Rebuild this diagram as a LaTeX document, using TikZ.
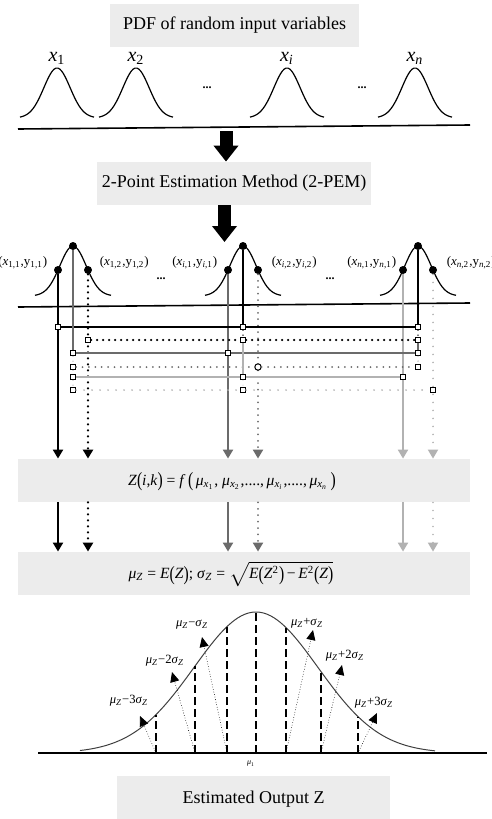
\documentclass[tikz,border=0pt]{standalone}
\usepackage{fontspec}
\setmainfont{Liberation Serif}
\usetikzlibrary{arrows.meta,positioning}
\definecolor{boxgray}{gray}{0.925}
\definecolor{pemdark}{gray}{0.42}
\definecolor{pemlight}{gray}{0.7}
\newcommand{\vi}[1]{\textit{#1}}
\newcommand{\lo}[1]{\textsubscript{#1}}
\newcommand{\tp}[1]{\raisebox{-0.12em}{\scalebox{1}[1.3]{#1}}}
\begin{document}
\begin{tikzpicture}[x=0.5pt,y=-0.5pt, every node/.style={font=\fontsize{9}{11}\selectfont},
  graybox/.style={fill=boxgray,inner sep=0pt,minimum height=21.5pt},
  pdfcurve/.style={line width=0.6pt},
  bigarrow/.style={line width=6.5pt,-{Triangle[width=12pt,length=8pt]}},
  ptdot/.style={circle,fill,inner sep=0pt,minimum size=4pt},
  ptlabel/.style={inner sep=0pt,font=\fontsize{6.5}{8}\selectfont},
  sq/.style={draw,fill=white,line width=0.5pt,inner sep=0pt,minimum size=2.6pt},
  tip/.style={-{Triangle[width=5pt,length=4.5pt]}},
  blk/.style={line width=1.1pt},
  blkdot/.style={line width=1.2pt,line cap=round,dash pattern=on 0pt off 3pt},
  drk/.style={pemdark,line width=1pt},
  drkdot/.style={pemdark,line width=1pt,line cap=round,dash pattern=on 0pt off 3.2pt},
  lgt/.style={pemlight,line width=1pt},
  lgtdot/.style={pemlight,line width=0.9pt,line cap=round,dash pattern=on 0pt off 4pt},
  sigline/.style={line width=0.9pt,dash pattern=on 4pt off 2pt},
  sigarrow/.style={line width=0.4pt,line cap=round,dash pattern=on 0pt off 1.3pt,-{Triangle[width=4.5pt,length=5pt]}},
  siglabel/.style={inner sep=0pt,font=\fontsize{6.3}{8}\selectfont}]
\useasboundingbox (0,0) rectangle (492,819);
% input pdfs
\node[graybox,minimum width=124.5pt] (pdfbox) at (234.5,25) {PDF of random input variables};
\foreach \cx/\lab [count=\k] in {57/1,136/2,287/\vi{i},415/\vi{n}}{
  \draw[pdfcurve] plot[domain=-37:37,samples=40] ({\cx+\x},{68+50*(1-exp(-\x*\x/344))});
  \node[font=\fontsize{10}{12}\selectfont] (xlab\k) at (\cx,58) {\vi{x}\lo{\lab}};}
\node[font=\fontsize{6}{7}\selectfont\bfseries] (dotsA) at (207,88) {...};
\node[font=\fontsize{6}{7}\selectfont\bfseries] (dotsB) at (362,88) {...};
\draw[line width=0.8pt] (18,129) -- (470,125);
\coordinate (arrtop) at (226,131);
\node[graybox,minimum width=137pt] (pembox) at (234,183.5) {2-Point Estimation Method (2-PEM)};
\draw[bigarrow] (arrtop) -- (arrtop |- pembox.north);
\coordinate (arrbot) at (224.5,242);
\draw[bigarrow] (arrbot |- pembox.south) -- (arrbot);
% estimation points
\foreach \cx [count=\k] in {73,243,418}{
  \draw[pdfcurve] plot[domain=-38:38,samples=40] ({\cx+\x},{246+50*(1-exp(-\x*\x/344))});
  \node[ptdot] (P\k) at (\cx,246) {};
  \node[ptdot] (L\k) at (\cx-15,270) {};
  \node[ptdot] (R\k) at (\cx+15,270) {};}
\node[ptlabel,left=3pt of L1,yshift=3.5pt] (l11) {(\vi{x}\lo{1,1},y\lo{1,1})};
\node[ptlabel,right=3.5pt of R1,yshift=3.5pt] (l12) {(\vi{x}\lo{1,2},y\lo{1,2})};
\node[ptlabel,left=3pt of L2,yshift=3.5pt] (li1) {(\vi{x}\lo{\vi{i},1},y\lo{\vi{i},1})};
\node[ptlabel,right=4.5pt of R2,yshift=3.5pt] (li2) {(\vi{x}\lo{\vi{i},2},y\lo{\vi{i},2})};
\node[ptlabel,left=1pt of L3,yshift=3.5pt] (ln1) {(\vi{x}\lo{\vi{n},1},y\lo{\vi{n},1})};
\node[ptlabel,right=4.5pt of R3,yshift=3.5pt] (ln2) {(\vi{x}\lo{\vi{n},2},y\lo{\vi{n},2})};
\node[font=\fontsize{6}{7}\selectfont\bfseries] (dotsC) at (161,279) {...};
\node[font=\fontsize{6}{7}\selectfont\bfseries] (dotsD) at (330,279) {...};
\draw[line width=0.8pt] (18,307) -- (470,303);
\node[graybox,minimum width=226pt] (zbox) at (244,480.5) {};
\node[graybox,minimum width=226pt] (mubox) at (244,573.5) {};
\foreach \n/\st in {L1/blk,R1/blkdot,L2/drk,R2/drkdot,L3/lgt,R3/lgtdot}{
  \draw[\st,tip] (\n) -- (\n |- zbox.north);
  \draw[\st,tip] (zbox.south -| \n) -- (mubox.north -| \n);}
% combination ladder
\foreach \r/\yy/\xa/\xc in {A/327/58/418,B/340/88/418,C/353/73/418,D/367/73/418,E/377/73/403,F/390/73/433}{
  \node[sq] (s\r1) at (\xa,\yy) {};
  \node[sq] (s\r3) at (\xc,\yy) {};}
\foreach \r/\yy/\xb in {A/327/243,B/340/243,C/353/228,E/377/243,F/390/243}
  \node[sq] (s\r2) at (\xb,\yy) {};
\node[sq,circle,minimum size=3.2pt] (sD2) at (258,367) {};
\draw[blk] (sA1) -- (sA2) -- (sA3);
\draw[blkdot] (sB1) -- (sB2) -- (sB3);
\draw[drk] (sC1) -- (sC2) -- (sC3);
\draw[drkdot] (sD1) -- (sD2) -- (sD3);
\draw[lgt] (sE1) -- (sE2) -- (sE3);
\draw[lgtdot] (sF1) -- (sF2) -- (sF3);
\draw[drk] (P1) -- (sC1);
\draw[pemdark,line width=0.6pt,line cap=round,dash pattern=on 0pt off 2.5pt] (sC1) -- (sD1) -- (sE1) -- (sF1);
\draw[blk] (P2) -- (sA2);
\draw[line width=0.8pt,line cap=round,dash pattern=on 0pt off 2.5pt] (sA2) -- (sB2);
\draw[lgt] (sB2) -- (sE2);
\draw[pemlight,line width=0.6pt,line cap=round,dash pattern=on 0pt off 2.5pt] (sE2) -- (sF2);
\draw[blk] (P3) -- (sA3);
\draw[line width=0.8pt,line cap=round,dash pattern=on 0pt off 2.5pt] (sA3) -- (sB3);
\draw[drk] (sB3) -- (sC3);
\draw[pemdark,line width=0.6pt,line cap=round,dash pattern=on 0pt off 2.5pt] (sC3) -- (sD3);
\node[font=\fontsize{7.8}{9}\selectfont] (zform) at (232,482)
  {\vi{Z}\tp{(}\vi{i},\vi{k}\tp{)} = \vi{f}\,\tp{(}\,\vi{μ}\lo{\vi{x}\lo{1}}, \vi{μ}\lo{\vi{x}\lo{2}},....,\,\vi{μ}\lo{\vi{x}\lo{\vi{i}}},....,\,\vi{μ}\lo{\vi{x}\lo{\vi{n}}}\,\tp{)}};
\node[font=\fontsize{7.8}{9}\selectfont] (muform) at (231,574)
  {\vi{μ}\lo{\vi{Z}} = \vi{E}\tp{(}\vi{Z}\tp{)}; \vi{σ}\lo{\vi{Z}} = $\sqrt{\mbox{\vi{E}\tp{(}\vi{Z}\textsuperscript{2}\tp{)}\,−\,\vi{E}\textsuperscript{2}\tp{(}\vi{Z}\tp{)}}}$};
% output distribution
\draw[line width=0.9pt] (38,753) -- (487,753);
\draw[line width=0.5pt,black!75] plot[domain=80:435,samples=120] (\x,{753-141*exp(-0.5*((\x-256)/62)^2)});
\foreach \d in {-100,-61,-29,0,30,65,102}
  \draw[sigline] ({256+\d},753) -- ({256+\d},{753-141*exp(-0.5*(\d/62)^2)});
\foreach \d/\tx/\ty/\lx/\ly/\lab [count=\k] in {-29/202/637/192/625/{−\vi{σ}},
    -61/172/672/165/661/{−2\vi{σ}},-100/140/716/129/701/{−3\vi{σ}},
    30/313/630/307/623/{+\vi{σ}},65/342/665/345/656/{+2\vi{σ}},
    102/377/713/374/703/{+3\vi{σ}}}{
  \coordinate (b\k) at ({256+\d},753);
  \coordinate (t\k) at (\tx,\ty);
  \node[siglabel] (s\k) at (\lx,\ly) {\vi{μ}\lo{\vi{Z}}\lab\lo{\vi{Z}}};
  \draw[sigarrow] (b\k) -- (t\k);}
\node[font=\fontsize{4}{5}\selectfont] (mu0) at (251,764) {\vi{μ}\lo{1}};
\node[graybox,minimum width=136.5pt,minimum height=23pt] (outbox) at (253.5,799) {Estimated Output Z};
\end{tikzpicture}
\end{document}
